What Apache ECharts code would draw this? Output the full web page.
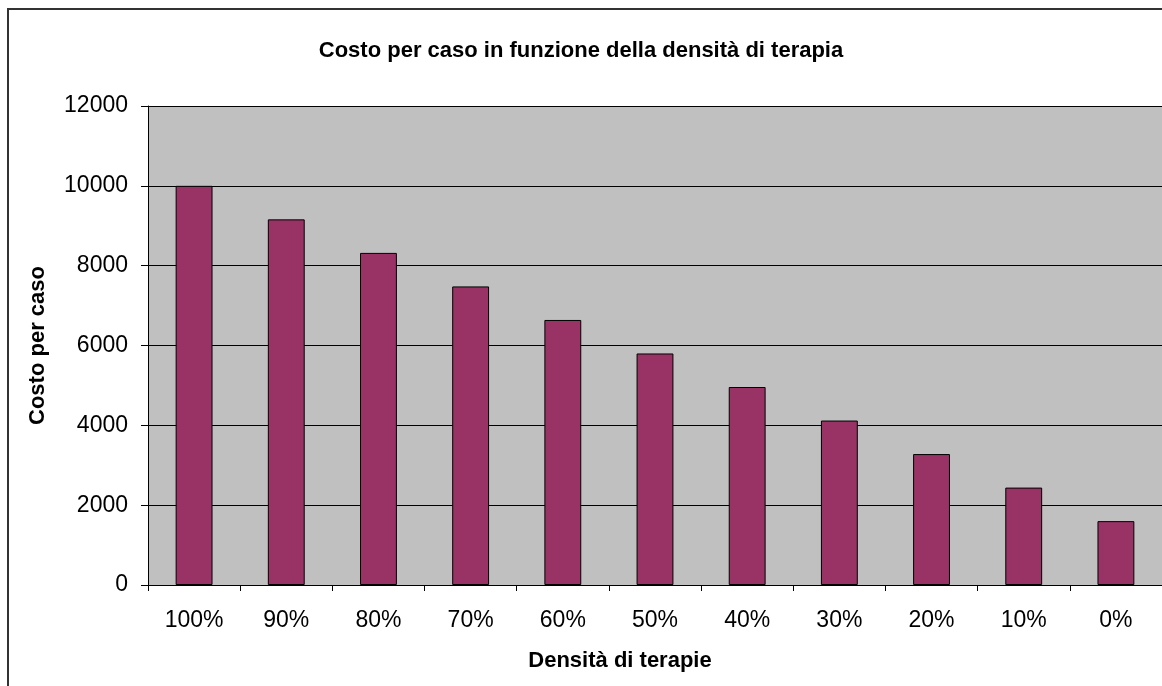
<!DOCTYPE html>
<html><head><meta charset="utf-8">
<script src="https://cdn.jsdelivr.net/npm/echarts@6/dist/echarts.min.js"></script>
<style>html,body{margin:0;padding:0;background:#fff}#c{width:1162px;height:686px}</style>
</head><body><div id="c"></div>
<script>
const categories = ['100%','90%','80%','70%','60%','50%','40%','30%','20%','10%','0%'];
const costoPerCaso = [10000, 9160, 8320, 7480, 6640, 5800, 4960, 4120, 3280, 2440, 1600];
const yTicks = [0, 2000, 4000, 6000, 8000, 10000, 12000];

const chart = echarts.init(document.getElementById('c'));
const font = 'Arial, "Liberation Sans", sans-serif';
chart.setOption({
  animation: false,
  backgroundColor: '#fff',
  title: {
    text: 'Costo per caso in funzione della densità di terapia',
    left: 'center', top: 35,
    textStyle: { fontFamily: font, fontSize: 22, fontWeight: 'bold', color: '#000' }
  },
  graphic: [{
    type: 'rect', shape: { x: 8, y: 9, width: 1200, height: 800 },
    style: { fill: 'none', stroke: '#333', lineWidth: 2 }, silent: true, z: 100
  }],
  grid: { left: 148, top: 106, right: -6, bottom: 101, show: true, backgroundColor: '#C0C0C0', borderWidth: 0 },
  xAxis: {
    type: 'category', data: categories,
    axisLine: { lineStyle: { color: '#000', width: 1 } },
    axisTick: { show: true, length: 6, lineStyle: { color: '#000' } },
    axisLabel: { fontFamily: font, fontSize: 23, color: '#000', margin: 24 },
    name: 'Densità di terapie', nameLocation: 'middle', nameGap: 65,
    nameTextStyle: { fontFamily: font, fontSize: 22, fontWeight: 'bold', color: '#000', padding: [0, 70, 0, 0] }
  },
  yAxis: {
    type: 'value', min: yTicks[0], max: yTicks[yTicks.length - 1], interval: 2000,
    axisLine: { show: true, lineStyle: { color: '#000', width: 1 } },
    axisTick: { show: true, length: 7, lineStyle: { color: '#000' } },
    axisLabel: { fontFamily: font, fontSize: 23, color: '#000', margin: 20, formatter: v => String(v) },
    splitLine: { lineStyle: { color: '#000', width: 1 } },
    name: 'Costo per caso', nameLocation: 'middle', nameGap: 99, nameRotate: 90,
    nameTextStyle: { fontFamily: font, fontSize: 22, fontWeight: 'bold', color: '#000' }
  },
  series: [{
    type: 'bar', data: costoPerCaso, barWidth: '40%',
    itemStyle: { color: '#993366', borderColor: '#000', borderWidth: 1 }
  }]
});
</script></body></html>
